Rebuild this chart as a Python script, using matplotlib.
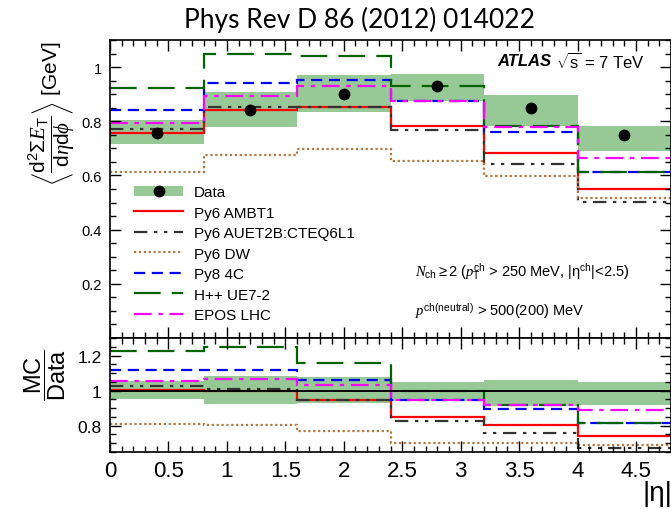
import numpy as np
import matplotlib.pyplot as plt
from matplotlib.patches import Patch
from matplotlib.lines import Line2D
from matplotlib.ticker import MultipleLocator, FuncFormatter

plt.rcParams['font.family'] = ['Liberation Sans', 'DejaVu Sans']
plt.rcParams['mathtext.fontset'] = 'custom'
plt.rcParams['mathtext.rm'] = 'Liberation Sans'
plt.rcParams['mathtext.it'] = 'Liberation Serif:italic'
plt.rcParams['mathtext.sf'] = 'Liberation Sans'

# |eta| bins
edges = [0, 0.8, 1.6, 2.4, 3.2, 4.0, 4.8]
centers = [0.4, 1.2, 2.0, 2.8, 3.6, 4.4]

# data and its uncertainty band
data = [0.755, 0.842, 0.902, 0.932, 0.849, 0.748]
band_lo = [0.717, 0.779, 0.833, 0.874, 0.784, 0.689]
band_hi = [0.806, 0.908, 0.969, 0.975, 0.898, 0.784]

# MC predictions (top panel)
ambt1 = [0.755, 0.841, 0.852, 0.784, 0.683, 0.551]
auet2b = [0.772, 0.852, 0.852, 0.768, 0.644, 0.501]
dw = [0.612, 0.677, 0.698, 0.652, 0.597, 0.515]
py8 = [0.840, 0.942, 0.954, 0.876, 0.761, 0.612]
hpp = [0.921, 1.049, 1.040, 0.929, 0.782, 0.612]
epos = [0.792, 0.893, 0.929, 0.876, 0.779, 0.665]

# MC/Data ratios (bottom panel)
r_band_lo = [0.953, 0.924, 0.928, 0.939, 0.914, 0.917]
r_band_hi = [1.054, 1.082, 1.077, 1.048, 1.063, 1.050]
r_ambt1 = [1.006, 1.000, 0.949, 0.848, 0.806, 0.739]
r_auet2b = [1.029, 1.011, 0.949, 0.825, 0.758, 0.672]
r_dw = [0.811, 0.802, 0.768, 0.700, 0.700, 0.688]
r_py8 = [1.118, 1.117, 1.059, 0.945, 0.897, 0.815]
r_hpp = [1.227, 1.248, 1.158, 1.000, 0.920, 0.815]
r_epos = [1.057, 1.067, 1.034, 0.945, 0.920, 0.888]

band_col = '#96c996'
styles = [
    ('Py6 AMBT1', '#ff0000', '-'),
    ('Py6 AUET2B:CTEQ6L1', '#333333', (0, (6, 3, 1.5, 3, 1.5, 3))),
    ('Py6 DW', '#b5773f', (0, (1, 1.2))),
    ('Py8 4C', '#0000ff', (0, (5, 3))),
    ('H++ UE7-2', '#006400', (0, (12, 5))),
    ('EPOS LHC', '#ff00ff', (0, (8, 3, 2, 3))),
]
top_mc = [ambt1, auet2b, dw, py8, hpp, epos]
rat_mc = [r_ambt1, r_auet2b, r_dw, r_py8, r_hpp, r_epos]

fig = plt.figure(figsize=(6.71, 5.10), dpi=100)
ax = fig.add_axes([110/671, 1-339/510, 561/671, 298/510])
axr = fig.add_axes([110/671, 1-453/510, 561/671, 114/510])

# top panel
ax.stairs(band_hi, edges, baseline=band_lo, fill=True, color=band_col, lw=0)
for (lab, c, ls), v in zip(styles, top_mc):
    ax.stairs(v, edges, baseline=None, color=c, ls=ls, lw=1.6)
ax.plot(centers, data, 'o', color='black', ms=7.5, zorder=5)

# ratio panel
axr.stairs(r_band_hi, edges, baseline=r_band_lo, fill=True, color=band_col, lw=0)
axr.axhline(1.0, color='black', lw=1.4)
for (lab, c, ls), v in zip(styles, rat_mc):
    axr.stairs(v, edges, baseline=None, color=c, ls=ls, lw=1.6)

fmt = FuncFormatter(lambda v, p: '' if abs(v) < 1e-9 else '%g' % v)
for a in (ax, axr):
    a.set_xlim(0, 4.8)
    a.xaxis.set_major_locator(MultipleLocator(0.5))
    a.xaxis.set_minor_locator(MultipleLocator(0.1))
    a.yaxis.set_major_locator(MultipleLocator(0.2))
    a.yaxis.set_minor_locator(MultipleLocator(0.05))
    a.tick_params(which='both', direction='in', top=True, right=True, width=1)
    a.tick_params(which='major', length=8)
    a.tick_params(which='minor', length=4)
    a.yaxis.set_major_formatter(fmt)
    for s in a.spines.values():
        s.set_linewidth(1.2)

ax.set_ylim(0, 1.1)
ax.tick_params(axis='x', labelbottom=False)
ax.tick_params(axis='y', labelsize=10.5, pad=6)
axr.set_ylim(0.65, 1.3)
axr.tick_params(axis='y', labelsize=12.5, pad=6)
axr.tick_params(axis='x', labelsize=16, pad=6)
axr.xaxis.set_major_formatter(FuncFormatter(lambda v, p: '%g' % v))

ax.set_ylabel(r'$\left\langle\dfrac{\mathrm{d}^2\Sigma E_\mathrm{T}}{\mathrm{d}\eta\mathrm{d}\phi}\right\rangle$ [GeV]',
              fontsize=15, loc='top')
ax.yaxis.set_label_coords(-0.058, 1.0)
fig.text(45/671, 1-375/510, r'$\dfrac{\mathrm{MC}}{\mathrm{Data}}$', fontsize=17,
         rotation=90, ha='center', va='center')
fig.text(657/671, 1-494/510, '|η|', fontsize=20, ha='center', va='center')
fig.text(360/671, 1-20/510, 'Phys Rev D 86 (2012) 014022', fontsize=19,
         family=['Lato', 'DejaVu Sans'], ha='center', va='center')

# annotations
ax.text(0.69, 0.93, 'ATLAS', transform=ax.transAxes, fontsize=12,
        fontweight='bold', fontstyle='italic', va='center')
ax.text(0.795, 0.93, r'$\sqrt{\mathrm{s}}$ = 7 TeV', transform=ax.transAxes,
        fontsize=12, va='center')
ax.text(0.544, 0.225,
        r'$N_{\mathrm{ch}}\geq 2$ ($p_\mathrm{T}^\mathrm{ch}$ > 250 MeV, |$\mathrm{\eta}^\mathrm{ch}$|<2.5)',
        transform=ax.transAxes, fontsize=10.5, va='center')
ax.text(0.544, 0.09, r'$p^{\mathrm{ch(neutral)}}$ > 500(200) MeV',
        transform=ax.transAxes, fontsize=10.5, va='center')

# legend
h_data = (Patch(facecolor=band_col, edgecolor='none'),
          Line2D([], [], marker='o', color='black', ls='none', ms=7.5))
handles = [h_data] + [Line2D([], [], color=c, ls=ls, lw=1.6) for lab, c, ls in styles]
labels = ['Data'] + [lab for lab, c, ls in styles]
ax.legend(handles, labels, loc='upper left', bbox_to_anchor=(0.043, 0.512),
          frameon=False, fontsize=11, handlelength=3.2, handletextpad=0.7,
          labelspacing=0.42, borderpad=0, borderaxespad=0)

fig.savefig('out.png', dpi=100)
